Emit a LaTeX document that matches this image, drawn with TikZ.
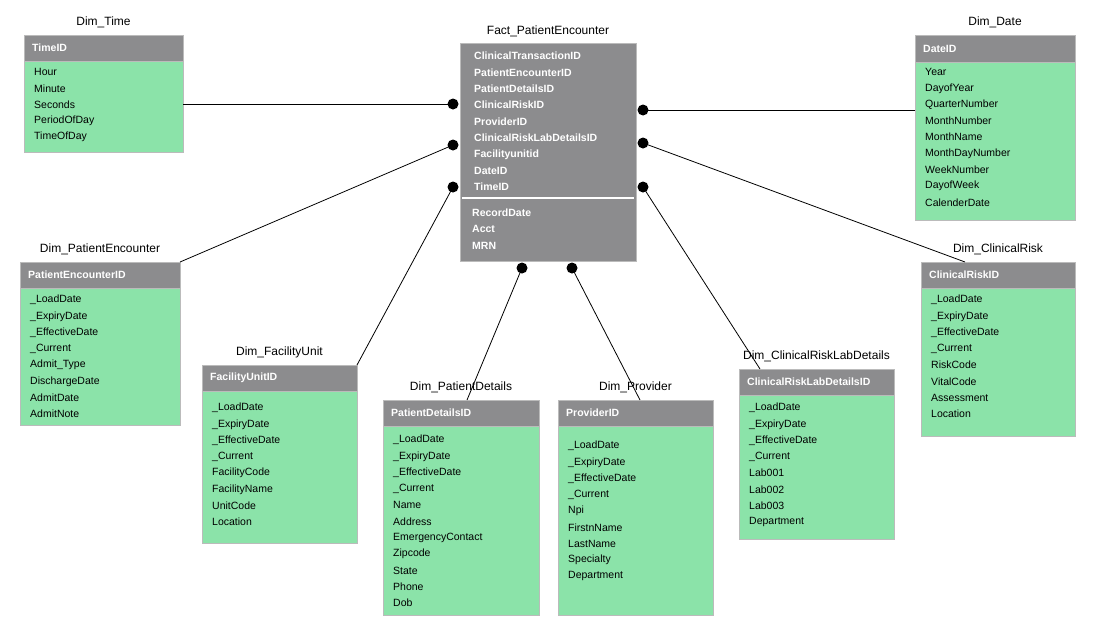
\documentclass[tikz,border=0pt]{standalone}
\usepackage{fontspec}
\setmainfont{Liberation Sans}
\definecolor{hdr}{HTML}{8C8C8E}
\definecolor{grn}{HTML}{8BE3A9}
\definecolor{brd}{HTML}{BBBBBB}
\tikzset{
  box/.style={draw=brd,line width=1pt,anchor=north west,inner sep=0pt},
  ttl/.style={font=\fontsize{12}{12}\selectfont},
  row/.style={anchor=west,inner sep=0pt,font=\fontsize{10.5}{11}\selectfont},
  link/.style={line width=0.8pt},
  dot/.style={circle,fill=black,inner sep=0pt,minimum size=11pt}
}
\newcommand\mytab[9]{%
  \node[box,fill=grn,minimum width={#5-#2},minimum height={#6-#4}] (#1) at (#2,#4) {};
  \node[box,fill=hdr,minimum width={#5-#2},minimum height={#4-#3}] (#1h) at (#2,#3) {};
  \node[row,text=white,font=\fontsize{10.5}{11}\selectfont\bfseries] (#1k) at (#2+8,{(#3+#4)/2}) {#8};
  \node[ttl] (#1t) at ({(#2+#5)/2},#3-13) {#7};
  \foreach \r [count=\i from 0] in {#9} {\node[row] at (#2+10,\fy+16.3*\i) {\r};}
}
\begin{document}
\begin{tikzpicture}[x=1pt,y=-1pt]
\useasboundingbox[fill=white] (0,0) rectangle (1105,627);
% fact
\node[box,fill=hdr,minimum width=176,minimum height=218] (fact) at (460,43) {};
\node[ttl] (factt) at (548,31) {Fact\_PatientEncounter};
\foreach \r [count=\i from 0] in {ClinicalTransactionID,PatientEncounterID,PatientDetailsID,ClinicalRiskID,ProviderID,ClinicalRiskLabDetailsID,Facilityunitid,DateID,TimeID}
  {\node[row,text=white,font=\fontsize{10.5}{11}\selectfont\bfseries] at (474,56+16.4*\i) {\r};}
\draw[white,line width=1.2pt] (462,198) -- (634,198);
\foreach \r [count=\i from 0] in {RecordDate,Acct,MRN}
  {\node[row,text=white,font=\fontsize{10.5}{11}\selectfont\bfseries] at (472,213+16.2*\i) {\r};}
% dims
\def\fy{72}
\mytab{time}{24}{35}{61}{183}{152}{Dim\_Time}{TimeID}{Hour,Minute,Seconds,PeriodOfDay,TimeOfDay}
\def\fy{72}
\mytab{date}{915}{35}{62}{1075}{220}{Dim\_Date}{DateID}{Year,DayofYear,QuarterNumber,MonthNumber,MonthName,MonthDayNumber,WeekNumber,DayofWeek,CalenderDate}
\def\fy{300}
\mytab{pe}{20}{262}{288}{180}{425}{Dim\_PatientEncounter}{PatientEncounterID}{\_LoadDate,\_ExpiryDate,\_EffectiveDate,\_Current,Admit\_Type,DischargeDate,AdmitDate,AdmitNote}
\def\fy{408}
\mytab{fu}{202}{365}{391}{357}{543}{Dim\_FacilityUnit}{FacilityUnitID}{\_LoadDate,\_ExpiryDate,\_EffectiveDate,\_Current,FacilityCode,FacilityName,UnitCode,Location}
\def\fy{440}
\mytab{pd}{383}{400}{426}{539}{615}{Dim\_PatientDetails}{PatientDetailsID}{\_LoadDate,\_ExpiryDate,\_EffectiveDate,\_Current,Name,Address,EmergencyContact,Zipcode,State,Phone,Dob}
\def\fy{446}
\mytab{pr}{558}{400}{426}{713}{615}{Dim\_Provider}{ProviderID}{\_LoadDate,\_ExpiryDate,\_EffectiveDate,\_Current,Npi,FirstnName,LastName,Specialty,Department}
\def\fy{408}
\mytab{cl}{739}{369}{395}{894}{539}{Dim\_ClinicalRiskLabDetails}{ClinicalRiskLabDetailsID}{\_LoadDate,\_ExpiryDate,\_EffectiveDate,\_Current,Lab001,Lab002,Lab003,Department}
\def\fy{300}
\mytab{cr}{921}{262}{288}{1075}{436}{Dim\_ClinicalRisk}{ClinicalRiskID}{\_LoadDate,\_ExpiryDate,\_EffectiveDate,\_Current,RiskCode,VitalCode,Assessment,Location}
% connection points
\coordinate (c1) at (453,104);
\coordinate (c2) at (453,145);
\coordinate (c3) at (453,187);
\coordinate (c4) at (522,268);
\coordinate (c5) at (572,268);
\coordinate (c6) at (643,187);
\coordinate (c7) at (643,143);
\coordinate (c8) at (643,110);
\coordinate (e1) at (183,104);
\coordinate (e2) at (180,262);
\coordinate (e3) at (357,365);
\coordinate (e4) at (467,400);
\coordinate (e5) at (640,400);
\coordinate (e6) at (760,369);
\coordinate (e7) at (965,262);
\coordinate (e8) at (915,110);
\foreach \i in {1,...,8}{\draw[link] (e\i) -- (c\i); \node[dot] at (c\i) {};}
\end{tikzpicture}
\end{document}
